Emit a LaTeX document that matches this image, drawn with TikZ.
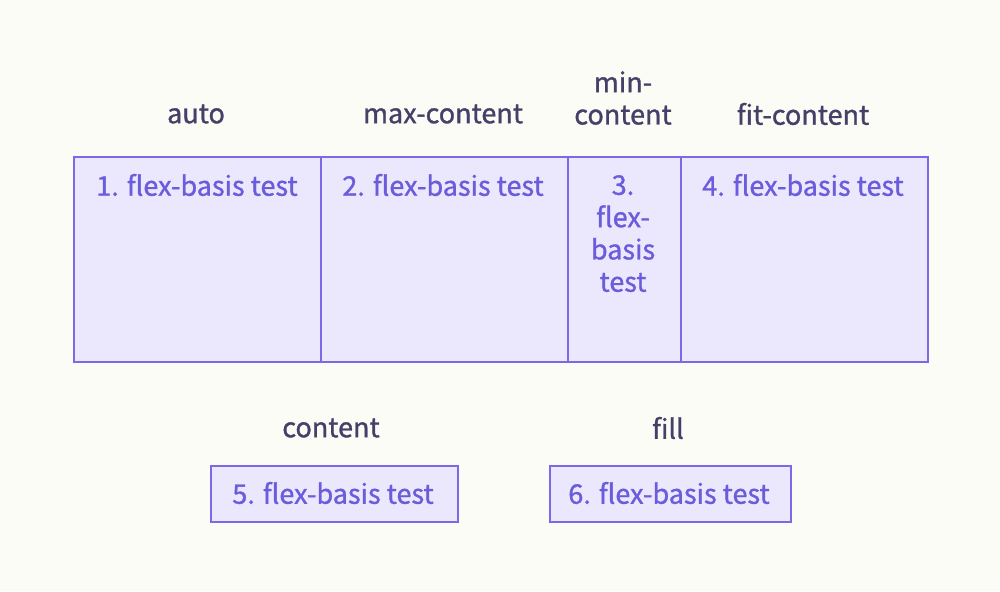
\documentclass[tikz,border=0pt]{standalone}
\usepackage{fontspec}
\setmainfont{Noto Sans CJK KR}[FakeBold=1.1]
\begin{document}
\begin{tikzpicture}[x=1pt,y=-1pt,
  cellbox/.style={draw=boxline,fill=boxfill,line width=1.5pt,inner sep=0pt,anchor=north west},
  celltext/.style={text=celltxt,font=\fontsize{27}{32.3}\selectfont,align=center,inner sep=0pt},
  labeltext/.style={text=labeltxt,font=\fontsize{27}{32.3}\selectfont,align=center,inner sep=0pt}]
\definecolor{bg}{HTML}{FCFCF7}
\definecolor{boxfill}{HTML}{EBE8FD}
\definecolor{boxline}{HTML}{7B6AE6}
\definecolor{celltxt}{HTML}{6B5CDB}
\definecolor{labeltxt}{HTML}{463F68}
\fill[bg] (0,0) rectangle (1000,591);
\useasboundingbox (0,0) rectangle (1000,591);
% top cells
\node[cellbox,minimum width=247pt,minimum height=205pt] (c1) at (73,156) {};
\node[cellbox,minimum width=247pt,minimum height=205pt] (c2) at (320,156) {};
\node[cellbox,minimum width=113pt,minimum height=205pt] (c3) at (567,156) {};
\node[cellbox,minimum width=247pt,minimum height=205pt] (c4) at (680,156) {};
% bottom boxes
\node[cellbox,minimum width=247pt,minimum height=56pt] (c5) at (210,465) {};
\node[cellbox,minimum width=241pt,minimum height=56pt] (c6) at (549,465) {};
% cell texts
\node[celltext] (t1) at (197,185) {1. flex-basis test};
\node[celltext] (t2) at (443,185) {2. flex-basis test};
\node[celltext,anchor=north] (t3) at (623,175) {3.\\flex-\\basis\\test};
\node[celltext] (t4) at (803,185) {4. flex-basis test};
\node[celltext] (t5) at (333,493) {5. flex-basis test};
\node[celltext] (t6) at (669,493) {6. flex-basis test};
% labels
\node[labeltext] (l1) at (196,114) {auto};
\node[labeltext] (l2) at (443,114) {max-content};
\node[labeltext,anchor=south] (l3) at (623,125) {min-\\content};
\node[labeltext] (l4) at (803,114) {fit-content};
\node[labeltext] (l5) at (331,428) {content};
\node[labeltext] (l6) at (668,428) {fill};
\end{tikzpicture}
\end{document}
